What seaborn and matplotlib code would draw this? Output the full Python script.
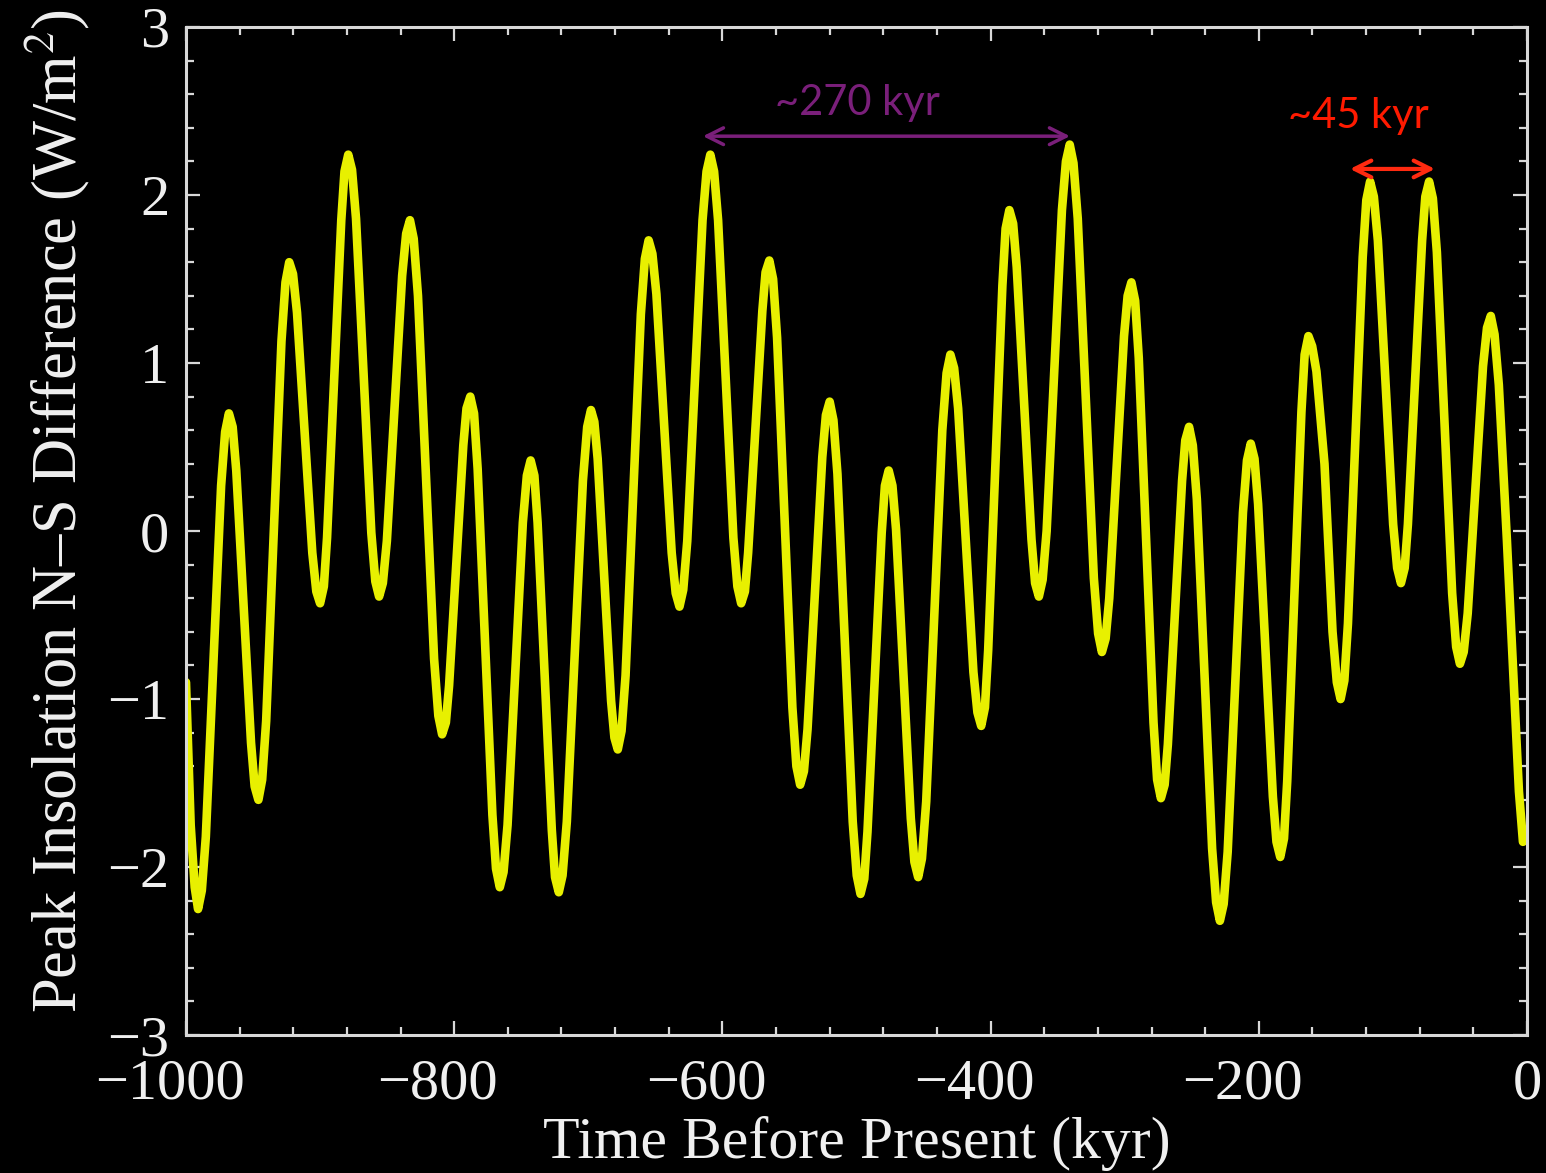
import matplotlib
matplotlib.use("Agg")
import matplotlib.pyplot as plt
import matplotlib.transforms as mtransforms
import seaborn as sns
from matplotlib.ticker import MultipleLocator

# values, one row per half swing (kyr, W/m^2)
time_kyr = [
    -1000, -996.5, -993.5,
    -991, -988.2, -985.2, -979.5, -973.8, -970.8,
    -968, -965.2, -962.5, -957, -951.5, -948.8,
    -946, -943.2, -940.2, -934.5, -928.8, -925.8,
    -923, -920.2, -917.2, -911.5, -905.8, -902.8,
    -900, -897.2, -894.8, -889.5, -884.2, -881.8,
    -879, -876.2, -873.2, -867.5, -861.8, -858.8,
    -856, -853.2, -850.2, -844.5, -838.8, -835.8,
    -833, -830.2, -827, -821, -815, -811.8,
    -809, -806.2, -803.8, -798.5, -793.2, -790.8,
    -788, -785.2, -782.5, -777, -771.5, -768.8,
    -766, -763.2, -760.2, -754.5, -748.8, -745.8,
    -743, -740.2, -737.8, -732.5, -727.2, -724.8,
    -722, -719.2, -716, -710, -704, -700.8,
    -698, -695.5, -693, -688, -683, -680.5,
    -678, -675.2, -672.2, -666.5, -660.8, -657.8,
    -655, -652.2, -649.2, -643.5, -637.8, -634.8,
    -632, -629.2, -626.2, -620.5, -614.8, -611.8,
    -609, -606.2, -603.2, -597.5, -591.8, -588.8,
    -586, -583.2, -580.8, -575.5, -570.2, -567.8,
    -565, -562.2, -559.2, -553.5, -547.8, -544.8,
    -542, -539.2, -536.5, -531, -525.5, -522.8,
    -520, -517.2, -514.2, -508.5, -502.8, -499.8,
    -497, -494.2, -491.8, -486.5, -481.2, -478.8,
    -476, -473.2, -470.5, -465, -459.5, -456.8,
    -454, -451.2, -448, -442, -436, -432.8,
    -430, -427.2, -424.2, -418.5, -412.8, -409.8,
    -407, -404.2, -401.8, -396.5, -391.2, -388.8,
    -386, -383.2, -380.5, -375, -369.5, -366.8,
    -364, -361.2, -358.2, -352.5, -346.8, -343.8,
    -341, -338.2, -335, -329, -323, -319.8,
    -317, -314.2, -311.5, -306, -300.5, -297.8,
    -295, -292.2, -289.5, -284, -278.5, -275.8,
    -273, -270.2, -267.8, -262.5, -257.2, -254.8,
    -252, -249.2, -246.2, -240.5, -234.8, -231.8,
    -229, -226.2, -223.2, -217.5, -211.8, -208.8,
    -206, -203.2, -200.5, -195, -189.5, -186.8,
    -184, -181.2, -178.8, -173.5, -168.2, -165.8,
    -163, -160.2, -157, -151, -145, -141.8,
    -139, -136.2, -133.5, -128, -122.5, -119.8,
    -117, -114.2, -111.2, -105.5, -99.8, -96.8,
    -94, -91.2, -88.8, -83.5, -78.2, -75.8,
    -73, -70.2, -67.2, -61.5, -55.8, -52.8,
    -50, -47.2, -44.2, -38.5, -32.8, -29.8,
    -27, -24.2, -21, -15, -9, -6, -3,
]
insolation = [
    -0.90, -1.75, -2.12,
    -2.25, -2.14, -1.82, -0.78, 0.27, 0.59,
    0.70, 0.62, 0.36, -0.45, -1.26, -1.52,
    -1.60, -1.48, -1.13, 0.00, 1.13, 1.48,
    1.60, 1.53, 1.30, 0.59, -0.13, -0.36,
    -0.43, -0.33, -0.04, 0.91, 1.85, 2.14,
    2.24, 2.15, 1.86, 0.93, -0.01, -0.30,
    -0.39, -0.31, -0.06, 0.73, 1.52, 1.77,
    1.85, 1.74, 1.40, 0.32, -0.76, -1.10,
    -1.21, -1.14, -0.92, -0.20, 0.51, 0.73,
    0.80, 0.70, 0.37, -0.66, -1.69, -2.01,
    -2.12, -2.03, -1.75, -0.85, 0.05, 0.33,
    0.42, 0.33, 0.05, -0.87, -1.78, -2.06,
    -2.15, -2.05, -1.73, -0.72, 0.30, 0.62,
    0.72, 0.65, 0.43, -0.29, -1.01, -1.23,
    -1.30, -1.19, -0.86, 0.22, 1.29, 1.62,
    1.73, 1.65, 1.41, 0.64, -0.13, -0.37,
    -0.45, -0.35, -0.06, 0.90, 1.85, 2.14,
    2.24, 2.14, 1.85, 0.91, -0.04, -0.33,
    -0.43, -0.36, -0.13, 0.59, 1.31, 1.54,
    1.61, 1.50, 1.15, 0.05, -1.05, -1.40,
    -1.51, -1.43, -1.18, -0.37, 0.44, 0.69,
    0.77, 0.66, 0.34, -0.70, -1.73, -2.05,
    -2.16, -2.07, -1.79, -0.90, -0.01, 0.27,
    0.36, 0.27, 0.01, -0.85, -1.71, -1.97,
    -2.06, -1.95, -1.61, -0.51, 0.60, 0.94,
    1.05, 0.97, 0.73, -0.06, -0.84, -1.08,
    -1.16, -1.05, -0.71, 0.38, 1.46, 1.80,
    1.91, 1.83, 1.57, 0.76, -0.05, -0.31,
    -0.39, -0.29, 0.00, 0.96, 1.91, 2.20,
    2.30, 2.19, 1.86, 0.79, -0.28, -0.61,
    -0.72, -0.64, -0.40, 0.38, 1.16, 1.40,
    1.48, 1.37, 1.03, -0.06, -1.14, -1.48,
    -1.59, -1.51, -1.27, -0.49, 0.30, 0.54,
    0.62, 0.51, 0.19, -0.85, -1.89, -2.21,
    -2.32, -2.22, -1.91, -0.90, 0.11, 0.42,
    0.52, 0.43, 0.16, -0.71, -1.58, -1.85,
    -1.94, -1.83, -1.49, -0.39, 0.71, 1.05,
    1.16, 1.10, 0.95, 0.40, -0.60, -0.90,
    -1.00, -0.89, -0.55, 0.54, 1.63, 1.97,
    2.08, 1.99, 1.73, 0.89, 0.04, -0.22,
    -0.31, -0.22, 0.04, 0.89, 1.73, 1.99,
    2.08, 1.98, 1.66, 0.65, -0.37, -0.69,
    -0.79, -0.72, -0.49, 0.25, 0.98, 1.21,
    1.28, 1.17, 0.87, -0.05, -1.05, -1.55, -1.85,
]
assert len(time_kyr) == len(insolation)

x_ticks = [-1000, -800, -600, -400, -200, 0]
y_ticks = [-3, -2, -1, 0, 1, 2, 3]

sns.set_theme(style="dark", rc={
    "axes.facecolor": "black",
    "figure.facecolor": "black",
    "axes.edgecolor": "#d8d8d8",
    "axes.linewidth": 2.2,
    "xtick.color": "#d8d8d8",
    "ytick.color": "#d8d8d8",
    "text.color": "#f0f0f0",
    "axes.labelcolor": "#f0f0f0",
})
plt.rcParams["font.family"] = ["Liberation Serif", "DejaVu Serif"]
plt.rcParams["mathtext.fontset"] = "stix"

fig = plt.figure(figsize=(15.46, 11.73), dpi=100)
ax = fig.add_axes([0.1203, 0.1176, 0.8674, 0.8594])

sns.lineplot(x=time_kyr, y=insolation, ax=ax, color="#e8f000", linewidth=6.2,
             estimator=None, sort=False)
for l in ax.get_lines():
    l.set_solid_joinstyle("round")
    l.set_solid_capstyle("round")

ax.set_xlim(-1000, 0)
ax.set_ylim(-3, 3)
ax.set_xticks(x_ticks)
ax.set_yticks(y_ticks)
ax.xaxis.set_minor_locator(MultipleLocator(40))
ax.yaxis.set_minor_locator(MultipleLocator(0.2))
ax.tick_params(which="both", direction="in", top=True, right=True,
               bottom=True, left=True, width=1.6)
ax.tick_params(which="major", length=10, labelsize=42, pad=12,
               labelcolor="#f0f0f0")
ax.tick_params(which="minor", length=6)
ax.tick_params(axis="x", which="major", pad=17)
ax.grid(False)

# digits centred on the tick, minus sign hanging to the left
shift = mtransforms.ScaledTranslation(-11.8 / 72, 0, fig.dpi_scale_trans)
for val, lab in zip(x_ticks, ax.get_xticklabels()):
    if val < 0:
        lab.set_transform(lab.get_transform() + shift)

ax.set_xlabel("Time Before Present (kyr)", fontsize=43, labelpad=4)
ax.set_ylabel("Peak Insolation N\u2013S Difference (W/m$^{2}$)", fontsize=45)
ax.yaxis.set_label_coords(-0.070, 0.52)

# period annotations
ax.annotate("", xy=(-614.5, 2.35), xytext=(-340.8, 2.35),
            arrowprops=dict(arrowstyle="<->", color="#7a1f7a", lw=2.5,
                            mutation_scale=30, shrinkA=0, shrinkB=0))
ax.text(-499.6, 2.55, "~270 kyr", color="#7a1f7a", fontsize=30,
        family=["Lato", "DejaVu Sans"], ha="center", va="center")
ax.annotate("", xy=(-132, 2.155), xytext=(-68.6, 2.155),
            arrowprops=dict(arrowstyle="<->", color="#ff2a10", lw=3,
                            mutation_scale=30, shrinkA=0, shrinkB=0))
ax.text(-126, 2.47, "~45 kyr", color="#ff1a00", fontsize=30,
        family=["Lato", "DejaVu Sans"], ha="center", va="center")

fig.savefig("out.png", dpi=100, facecolor="black")
